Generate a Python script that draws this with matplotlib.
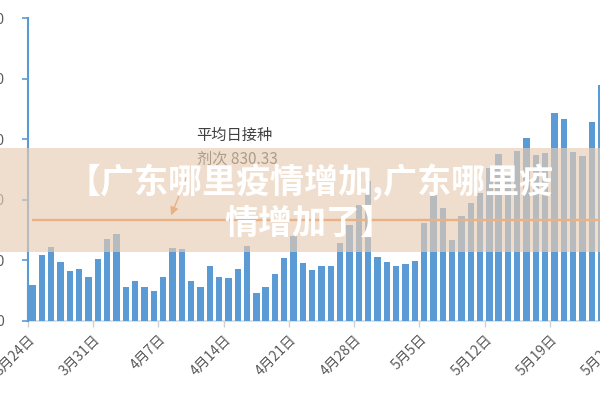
import matplotlib
matplotlib.use("Agg")
import matplotlib.pyplot as plt
from matplotlib.patches import Rectangle
import numpy as np

plt.rcParams['font.family'] = ['Noto Sans CJK SC', 'DejaVu Sans']

# ---- data ----
values = [297, 545, 608, 489, 413, 429, 366, 509, 677, 715,
          280, 330, 279, 249, 366, 606, 592, 329, 280, 450,
          366, 351, 428, 620, 227, 281, 388, 520, 701, 481,
          421, 451, 451, 646, 792, 957, 1158, 528, 488, 451,
          468, 498, 808, 1040, 935, 668, 866, 971, 1053, 1265,
          1378, 1200, 1403, 1507, 1370, 1384, 1719, 1664, 1392, 1361,
          1642, 1947]
tick_labels = ["3月24日", "3月31日", "4月7日", "4月14日", "4月21日",
               "4月28日", "5月5日", "5月12日", "5月19日", "5月26日"]
yticks = [0, 500, 1000, 1500, 2000, 2500]
avg_value = 830.33
avg_label = "平均日接种\n剂次 830.33"
title = "【广东哪里疫情增加,广东哪里疫\n情增加了】"

BLUE = "#5B9BD5"
ORANGE = "#ED7D31"
GRAY_TXT = "#595959"

fig = plt.figure(figsize=(6, 4), dpi=100)
ax = fig.add_axes([28 / 600, 79 / 400, 572 / 600, 303 / 400])

x = np.arange(len(values))
ax.bar(x, values, width=0.68, color=BLUE, zorder=2)

# axes ticks
tick_pos = np.arange(len(tick_labels)) * 7 - 0.5
xmax = -0.5 + 572 / 9.32
inside = tick_pos <= xmax
ax.set_yticks(yticks)
ax.set_yticklabels([str(v) for v in yticks])
ax.set_xticks(tick_pos[inside])
ax.set_xticklabels([t for t, k in zip(tick_labels, inside) if k],
                   rotation=45, ha="right", rotation_mode="anchor")
ax.set_xlim(-0.5, xmax)
ax.set_ylim(0, 2500)

# labels of ticks that fall past the right edge (cut off by the figure)
for p, t, k in zip(tick_pos, tick_labels, inside):
    if not k:
        ax.annotate(t, xy=(p, 0), xycoords=("data", "axes fraction"),
                    xytext=(0, -8), textcoords="offset points", rotation=45,
                    ha="right", va="top", rotation_mode="anchor",
                    fontsize=10, color=GRAY_TXT, annotation_clip=False)

# orange average line
ax.hlines(avg_value, -0.05, len(values), color=ORANGE, lw=1.7, zorder=3)
ax.annotate("", xy=(14.74, avg_value + 20), xytext=(16.9, avg_value + 430),
            arrowprops=dict(arrowstyle="-|>", color=ORANGE, lw=1.0,
                            mutation_scale=12), zorder=3)
ax.text(17.6, avg_value + 600, avg_label, fontsize=11, color="#404040",
        va="center", ha="left", linespacing=1.5, zorder=3)

ax.tick_params(axis="y", colors=BLUE, length=4, width=1.2, labelcolor=GRAY_TXT,
               labelsize=10, pad=13)
ax.tick_params(axis="x", colors="#D0D0D0", length=4, width=1, labelcolor=GRAY_TXT,
               labelsize=10, pad=4)
for s in ["top", "right"]:
    ax.spines[s].set_visible(False)
ax.spines["left"].set_color(BLUE)
ax.spines["left"].set_linewidth(1.5)
ax.spines["bottom"].set_color("#D9D9D9")
ax.spines["bottom"].set_linewidth(1.2)
ax.spines["bottom"].set_zorder(1)

# translucent banner over the chart
fig.patches.append(Rectangle((0, 148 / 400), 1, 104 / 400, transform=fig.transFigure,
                             facecolor=(232 / 255, 205 / 255, 179 / 255), alpha=0.66,
                             edgecolor="none", zorder=5))
fig.text(0.516, 0.494, title, ha="center", va="center", fontsize=24.5,
         fontweight="heavy", color="white", linespacing=1.18, zorder=6)

fig.savefig("out.png", dpi=100)
